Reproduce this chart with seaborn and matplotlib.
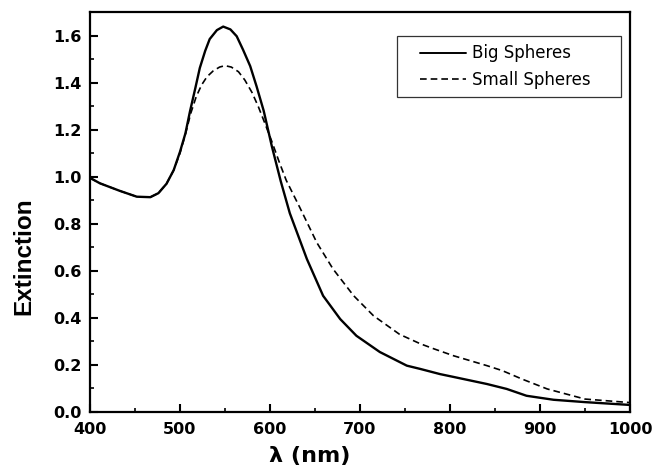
import matplotlib
matplotlib.use("Agg")
import matplotlib.pyplot as plt
import seaborn as sns
import pandas as pd
from matplotlib.ticker import MultipleLocator, FormatStrFormatter
from matplotlib.lines import Line2D
from matplotlib.legend_handler import HandlerBase

wl_big = [400, 411, 433, 452, 467, 476, 485, 493, 500, 506, 511, 517, 522, 528,
          533, 541, 548, 556, 563, 570, 578, 585, 593, 602, 612, 622, 641, 659,
          678, 696, 722, 752, 767, 789, 804, 841, 863, 885, 915, 950, 1000]
ext_big = [0.995, 0.972, 0.940, 0.915, 0.913, 0.930, 0.970, 1.028, 1.106, 1.184,
           1.276, 1.376, 1.462, 1.535, 1.585, 1.623, 1.638, 1.626, 1.597, 1.540,
           1.470, 1.385, 1.280, 1.130, 0.980, 0.845, 0.650, 0.494, 0.395, 0.324,
           0.255, 0.197, 0.183, 0.161, 0.149, 0.119, 0.098, 0.069, 0.052, 0.042,
           0.030]

wl_small = [400, 411, 433, 452, 467, 476, 485, 493, 500, 506, 512, 518, 524, 530,
            537, 544, 550, 557, 565, 572, 580, 587, 594, 602, 610, 618, 633, 652,
            670, 693, 715, 744, 767, 781, 804, 841, 858, 880, 908, 950, 1000]
ext_small = [0.995, 0.972, 0.940, 0.915, 0.913, 0.930, 0.970, 1.028, 1.100, 1.180,
             1.270, 1.340, 1.390, 1.425, 1.450, 1.466, 1.472, 1.466, 1.446, 1.411,
             1.358, 1.298, 1.230, 1.150, 1.065, 0.985, 0.870, 0.720, 0.608, 0.494,
             0.409, 0.330, 0.290, 0.270, 0.239, 0.197, 0.176, 0.140, 0.098, 0.055,
             0.040]

labels = ["Big Spheres", "Small Spheres"]

df = pd.concat([
    pd.DataFrame({"wl": wl_big, "ext": ext_big, "series": labels[0]}),
    pd.DataFrame({"wl": wl_small, "ext": ext_small, "series": labels[1]}),
], ignore_index=True)

sns.set_style("ticks")
plt.rcParams["font.family"] = ["DejaVu Sans"]
plt.rcParams.update({
    "text.color": "black",
    "axes.labelcolor": "black",
    "xtick.color": "black",
    "ytick.color": "black",
    "axes.edgecolor": "black",
})

fig = plt.figure(figsize=(6.55, 4.7), dpi=100)
ax = fig.add_axes([90 / 655, 1 - 412 / 470, 540 / 655, 400 / 470])

DASH = (4, 2.4)
sns.lineplot(data=df, x="wl", y="ext", style="series", hue="series",
             palette=["black", "black"], dashes={labels[0]: "", labels[1]: DASH},
             sort=False, ax=ax, legend=False)
lines = ax.get_lines()
lines[0].set_linewidth(1.7)
lines[1].set_linewidth(1.2)

ax.set_xlim(400, 1000)
ax.set_ylim(0, 1.7)
ax.xaxis.set_major_locator(MultipleLocator(100))
ax.xaxis.set_minor_locator(MultipleLocator(50))
ax.yaxis.set_major_locator(MultipleLocator(0.2))
ax.yaxis.set_minor_locator(MultipleLocator(0.1))
ax.yaxis.set_major_formatter(FormatStrFormatter("%.1f"))
ax.tick_params(which="major", direction="in", length=6, width=1.5,
               labelsize=11.5, colors="black")
ax.tick_params(axis="y", which="major", pad=6)
ax.tick_params(axis="x", which="major", pad=7)
ax.tick_params(which="minor", direction="in", length=3, width=1.2,
               colors="black")
for lbl in ax.get_xticklabels() + ax.get_yticklabels():
    lbl.set_fontweight("bold")
for sp in ax.spines.values():
    sp.set_linewidth(1.6)
    sp.set_color("black")
    sp.set_visible(True)

ax.set_xlabel("λ (nm)", fontsize=16, fontweight="bold", color="black")
ax.set_ylabel("Extinction", fontsize=17.5, fontweight="bold", color="black",
              family=["Liberation Sans", "DejaVu Sans"])
ax.xaxis.set_label_coords(0.407, -0.085)
ax.yaxis.set_label_coords(-0.102, 0.39)


class ShiftedLine(HandlerBase):
    def create_artists(self, legend, orig_handle, xdescent, ydescent,
                       width, height, fontsize, trans):
        frac = 46.0 / 61.0
        x1 = -xdescent + width
        x0 = x1 - width * frac
        y = height / 2.0 - ydescent
        ln = Line2D([x0, x1], [y, y], color=orig_handle.get_color(),
                    linewidth=orig_handle.get_linewidth(),
                    linestyle=orig_handle.get_linestyle(), transform=trans)
        if orig_handle.get_linestyle() not in ("-", "solid"):
            ln.set_dashes(DASH)
        return [ln]


handles = [Line2D([], [], color="black", lw=1.4),
           Line2D([], [], color="black", lw=1.2, linestyle="--")]
x0 = (397 - 90) / 540
x1 = (621 - 90) / 540
ytop = (412 - 36) / 400
ybot = (412 - 98) / 400
leg = ax.legend(handles, labels, loc="upper left",
                bbox_to_anchor=(x0, ybot, x1 - x0, ytop - ybot), mode="expand",
                fontsize=12, frameon=True, fancybox=False, edgecolor="black",
                handlelength=3.65, borderpad=0.5, labelspacing=0.5,
                handletextpad=0.35, borderaxespad=0,
                handler_map={Line2D: ShiftedLine()})
leg.get_frame().set_linewidth(0.9)
for t in leg.get_texts():
    t.set_color("black")

fig.savefig("out.png", dpi=100)
